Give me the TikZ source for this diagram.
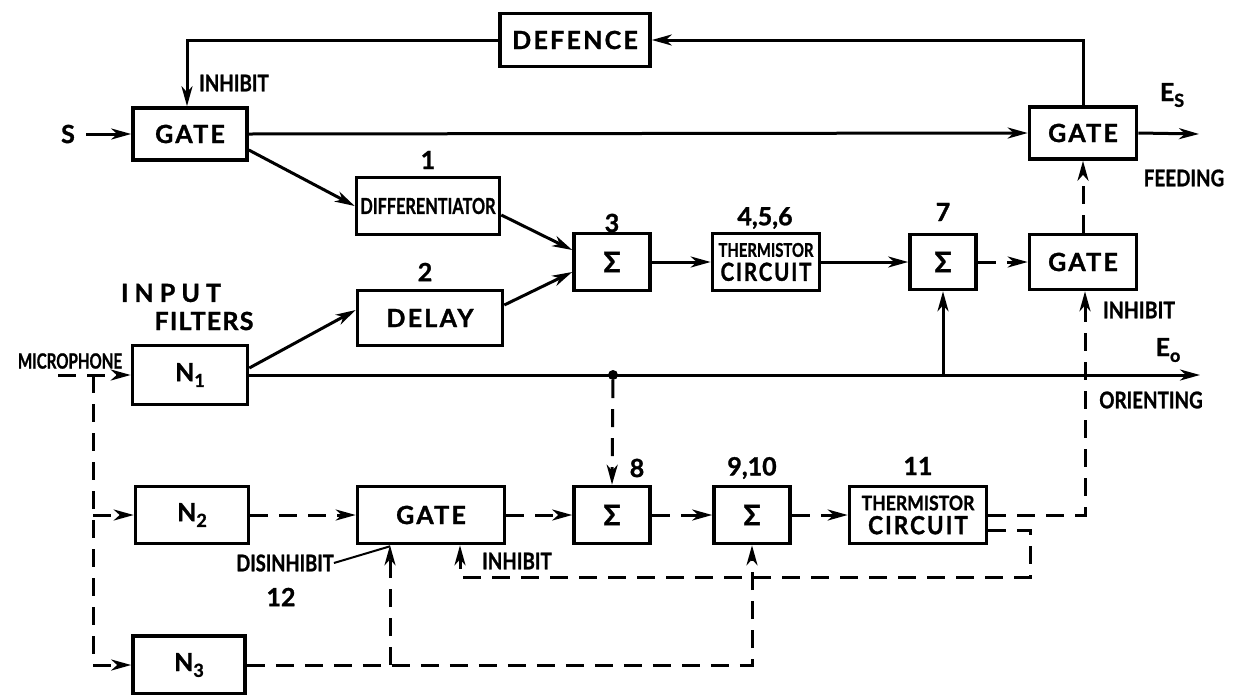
\documentclass[tikz,border=0pt]{standalone}
\usepackage{fontspec}
\setmainfont{Lato}[BoldFeatures={FakeBold=1.2}]
\newfontfamily\boxfont{Lato}[LetterSpace=9,BoldFeatures={FakeBold=1.2}]
\usepackage{graphicx}
\usetikzlibrary{arrows.meta}
\newcommand\sbs[1]{\raisebox{-0.45ex}{\fontsize{18pt}{18pt}\selectfont #1}}
\newcommand\narrow[2]{\scalebox{#1}[1]{#2}}
\begin{document}
\begin{tikzpicture}[x=1pt,y=-1pt,
  >={Stealth[length=20pt,width=11pt,inset=6pt]},
  box/.style 2 args={draw,line width=3.6pt,minimum width=#1,minimum height=#2,inner sep=0pt,align=center,font=\boxfont\fontsize{25pt}{25pt}\selectfont\bfseries},
  lbl/.style={inner sep=0pt,font=\fontsize{25pt}{25pt}\selectfont\bfseries},
  slbl/.style={inner sep=0pt,font=\fontsize{23pt}{23pt}\selectfont\bfseries},
  wire/.style={line width=3pt},
  dwire/.style={line width=3pt,dash pattern=on 18pt off 11pt},
  dot/.style={circle,fill,inner sep=0pt,minimum size=10pt}]
\fill[white] (0,0) rectangle (1239,694);
\path[use as bounding box] (0,0) rectangle (1239,694);

% boxes
\node[box={150pt}{53pt}] (defence) at (575,40) {DEFENCE};
\node[box={114pt}{52pt}] (gateA) at (190,134) {GATE};
\node[box={107pt}{52pt}] (gateB) at (1083,133) {GATE};
\node[box={143pt}{57pt}] (diff) at (428,206) {\addfontfeatures{LetterSpace=0}\fontsize{22pt}{22pt}\selectfont\narrow{0.74}{DIFFERENTIATOR}};
\node[box={76pt}{57pt}] (sig3) at (612,262) {\fontsize{28pt}{28pt}\selectfont Σ};
\node[box={107pt}{57pt}] (therm1) at (766,262) {\addfontfeatures{LetterSpace=0}\fontsize{19pt}{16pt}\selectfont\narrow{0.78}{THERMISTOR}\\[-1pt]\narrow{0.82}{CIRCUIT}};
\node[box={66pt}{55pt}] (sig7) at (943,262) {\fontsize{28pt}{28pt}\selectfont Σ};
\node[box={107pt}{55pt}] (gateC) at (1083,262) {GATE};
\node[box={145pt}{55pt}] (delay) at (430,318) {DELAY};
\node[box={115pt}{59pt}] (n1) at (190,375) {N\sbs{1}};
\node[box={113pt}{57pt}] (n2) at (192,515) {N\sbs{2}};
\node[box={147pt}{57pt}] (gateD) at (431,515) {GATE};
\node[box={76pt}{57pt}] (sig8) at (612,515) {\fontsize{28pt}{28pt}\selectfont Σ};
\node[box={76pt}{57pt}] (sig910) at (752,515) {\fontsize{28pt}{28pt}\selectfont Σ};
\node[box={137pt}{57pt}] (therm2) at (918,515) {\addfontfeatures{LetterSpace=0}\fontsize{20pt}{17pt}\selectfont\narrow{0.88}{THERMISTOR}\\[-1pt]\narrow{0.9}{CIRCUIT}};
\node[box={112pt}{58pt}] (n3) at (189,665) {N\sbs{3}};

% labels
\node[lbl] (s) at (68,134) {S};
\node[slbl,anchor=west] (inhA) at (199,83) {\narrow{0.82}{INHIBIT}};
\node[lbl] (l1) at (428,160) {1};
\node[lbl] (l2) at (425,272) {2};
\node[lbl] (l3) at (612,223) {3};
\node[lbl] (l456) at (765,218) {4,5,6};
\node[lbl] (l7) at (943,212) {7};
\node[lbl] (es) at (1172,95) {E\sbs{S}};
\node[slbl] (feed) at (1184,178) {\narrow{0.82}{FEEDING}};
\node[slbl] (inhC) at (1139,310) {\narrow{0.85}{INHIBIT}};
\node[lbl] (eo) at (1168,350) {E\sbs{o}};
\node[slbl] (orient) at (1151,400) {\narrow{0.82}{ORIENTING}};
\node[lbl] (inp) at (171,293) {I N P U T};
\node[lbl] (filt) at (204,321) {\addfontfeatures{LetterSpace=5}FILTERS};
\node[slbl] (mic) at (70,361) {\fontsize{21pt}{21pt}\selectfont\narrow{0.72}{MICROPHONE}};
\node[lbl] (l8) at (637,468) {8};
\node[lbl] (l910) at (752,468) {9,10};
\node[lbl] (l11) at (918,466) {11};
\node[slbl] (disinh) at (285,563) {\narrow{0.8}{DISINHIBIT}};
\node[lbl] (l12) at (281,597) {12};
\node[slbl] (inhD) at (517,561) {\narrow{0.82}{INHIBIT}};

% coordinates
\coordinate (sin) at (86,134);
\coordinate (esout) at (1199,134);
\coordinate (eoout) at (1200,375);
\coordinate (j1) at (613,375);
\coordinate (j7) at (943,375);
\coordinate (mic0) at (58,375);
\coordinate (m) at (93,375);
\coordinate (fb1) at (1030,577);
\coordinate (dtip) at ([xshift=-41pt]gateD.south);
\coordinate (itip) at ([xshift=29pt]gateD.south);

% solid connectors
\draw[wire,->] (sin) -- (gateA.west);
\draw[wire,->] (gateA.east) -- (gateB.west);
\draw[wire,->] (gateB.east) -- (esout);
\draw[wire,->] (gateB.north) |- (defence.east);
\draw[wire,->] (defence.west) -| ([xshift=-3pt]gateA.north);
\draw[wire,->] ([yshift=-16pt]gateA.east) -- (diff.west);
\draw[wire,->] ([yshift=-9pt]diff.east) -- ([yshift=12pt]sig3.west);
\draw[wire,->] ([yshift=13pt]delay.east) -- ([yshift=-10pt]sig3.west);
\draw[wire,->] ([yshift=7pt]n1.east) -- ([yshift=8pt]delay.west);
\draw[wire,->] (sig3.east) -- (therm1.west);
\draw[wire,->] (therm1.east) -- (sig7.west);
\draw[wire,->] (n1.east) -- (eoout);
\draw[wire,->] (j7) -- (sig7.south);
\node[dot] (jd) at (j1) {};
\draw[line width=2pt] (disinh.east) -- ([yshift=-1pt]dtip);

% dashed connectors
\draw[dwire,->] (sig7.east) -- (gateC.west);
\draw[dwire,->] (gateC.north) -- (gateB.south);
\draw[dwire,->] (jd) -- (sig8.north);
\draw[dwire,->] (therm2.east) -| ([xshift=2pt]gateC.south);
\draw[dwire,->] ([yshift=-15pt]therm2.east) -| (fb1) -| (itip);
\draw[dwire,->] (mic0) -- (n1.west);
\draw[dwire,->] (m) |- (n3.west);
\draw[dwire,->] (m |- n2.west) -- (n2.west);
\draw[dwire,->] (n2.east) -- (gateD.west);
\draw[dwire,->] (gateD.east) -- (sig8.west);
\draw[dwire,->] (sig8.east) -- (sig910.west);
\draw[dwire,->] (sig910.east) -- (therm2.west);
\draw[dwire,->] (n3.east) -| (sig910.south);
\draw[dwire,->] (n3.east -| dtip) -- (dtip);
\end{tikzpicture}
\end{document}
